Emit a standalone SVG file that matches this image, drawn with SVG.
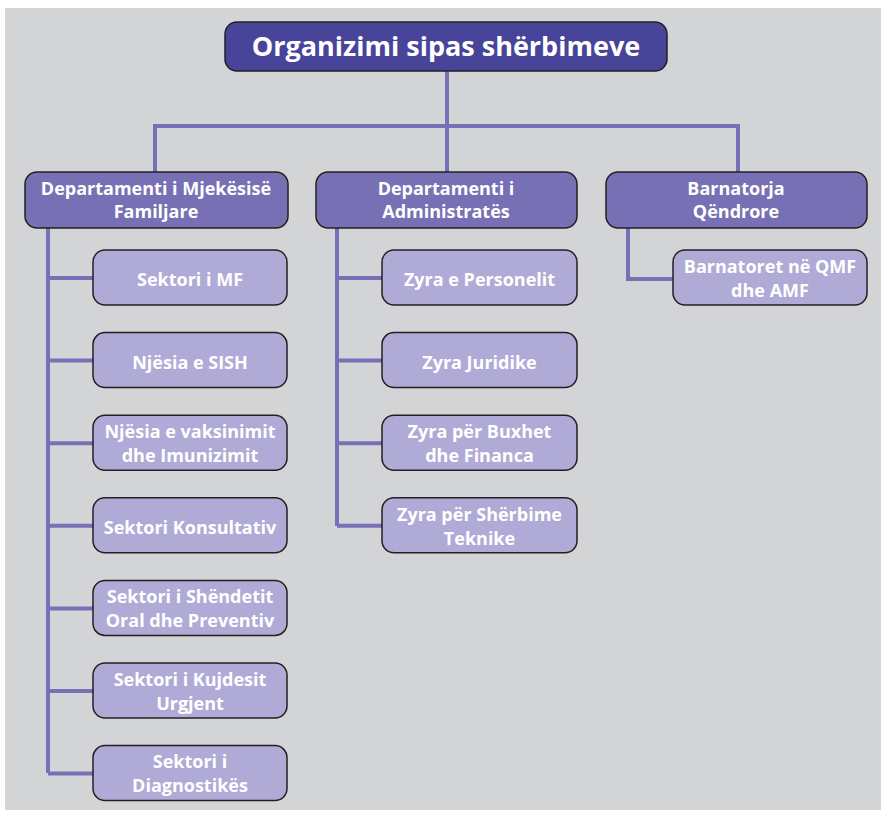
<svg xmlns="http://www.w3.org/2000/svg" width="881" height="813" viewBox="0 0 881 813">
<style>
.bg{fill:#d3d4d6}
.box{stroke:#231f20;stroke-width:1.5}
.root{fill:#48449a}
.l2{fill:#7870b4}
.l3{fill:#b0aad6}
.t{font-family:"Open Sans","Noto Sans",sans-serif;font-weight:700;fill:#ffffff;text-anchor:middle}
.tt{font-size:27px}
.t2{font-size:18px}
.t3{font-size:18px}
.conn{fill:none;stroke:#7870b4;stroke-width:4}
</style>
<rect x="0" y="0" width="881" height="813" fill="#ffffff"/>
<rect class="bg" x="5" y="8" width="876" height="802"/>
<g id="connectors">
<path class="conn" d="M447 71V126M155 172V126H738V172M447 126V172"/>
<path class="conn" d="M48 228V773M48 278H93M48 360.6H93M48 443.2H93M48 525.8H93M48 608.4H93M48 691H93M48 773.6H93"/>
<path class="conn" d="M337 228V526M337 278H382M337 360.6H382M337 443.2H382M337 525.8H382"/>
<path class="conn" d="M628 228V279H673"/>
</g>
<g id="root">
<rect class="box root" x="225" y="22" width="442" height="49" rx="12"/>
<text class="t tt" x="446" y="56">Organizimi sipas shërbimeve</text>
</g>
<g id="dep-mf">
<rect class="box l2" x="25" y="172" width="263" height="56" rx="12"/>
<text class="t t2" x="156" y="195">Departamenti i Mjekësisë</text>
<text class="t t2" x="156" y="218">Familjare</text>
</g>
<g id="dep-adm">
<rect class="box l2" x="316" y="172" width="261" height="56" rx="12"/>
<text class="t t2" x="446" y="195">Departamenti i</text>
<text class="t t2" x="446" y="218">Administratës</text>
</g>
<g id="barnatorja">
<rect class="box l2" x="606" y="172" width="261" height="56" rx="12"/>
<text class="t t2" x="736" y="195">Barnatorja</text>
<text class="t t2" x="736" y="218">Qëndrore</text>
</g>
<g id="sektori-mf">
<rect class="box l3" x="93" y="250" width="194" height="55" rx="12"/>
<text class="t t3" x="190" y="286">Sektori i MF</text>
</g>
<g id="njesia-sish">
<rect class="box l3" x="93" y="332.6" width="194" height="55" rx="12"/>
<text class="t t3" x="190" y="368.6">Njësia e SISH</text>
</g>
<g id="njesia-vaksinimit">
<rect class="box l3" x="93" y="415.2" width="194" height="55" rx="12"/>
<text class="t t3" x="190" y="438">Njësia e vaksinimit</text>
<text class="t t3" x="190" y="462">dhe Imunizimit</text>
</g>
<g id="sektori-konsultativ">
<rect class="box l3" x="93" y="497.8" width="194" height="55" rx="12"/>
<text class="t t3" x="190" y="533.8">Sektori Konsultativ</text>
</g>
<g id="sektori-shendetit">
<rect class="box l3" x="93" y="580.4" width="194" height="55" rx="12"/>
<text class="t t3" x="190" y="603">Sektori i Shëndetit</text>
<text class="t t3" x="190" y="627">Oral dhe Preventiv</text>
</g>
<g id="sektori-kujdesit">
<rect class="box l3" x="93" y="663" width="194" height="55" rx="12"/>
<text class="t t3" x="190" y="685.5">Sektori i Kujdesit</text>
<text class="t t3" x="190" y="709.5">Urgjent</text>
</g>
<g id="sektori-diagnostikes">
<rect class="box l3" x="93" y="745.6" width="194" height="55" rx="12"/>
<text class="t t3" x="190" y="768">Sektori i</text>
<text class="t t3" x="190" y="792">Diagnostikës</text>
</g>
<g id="zyra-personelit">
<rect class="box l3" x="382" y="250" width="195" height="55" rx="12"/>
<text class="t t3" x="479.5" y="286">Zyra e Personelit</text>
</g>
<g id="zyra-juridike">
<rect class="box l3" x="382" y="332.6" width="195" height="55" rx="12"/>
<text class="t t3" x="479.5" y="368.6">Zyra Juridike</text>
</g>
<g id="zyra-buxhet">
<rect class="box l3" x="382" y="415.2" width="195" height="55" rx="12"/>
<text class="t t3" x="479.5" y="438">Zyra për Buxhet</text>
<text class="t t3" x="479.5" y="462">dhe Financa</text>
</g>
<g id="zyra-sherbime">
<rect class="box l3" x="382" y="497.8" width="195" height="55" rx="12"/>
<text class="t t3" x="479.5" y="520.5">Zyra për Shërbime</text>
<text class="t t3" x="479.5" y="544.5">Teknike</text>
</g>
<g id="barnatoret">
<rect class="box l3" x="673" y="250" width="194" height="55" rx="12"/>
<text class="t t3" x="770" y="273">Barnatoret në QMF</text>
<text class="t t3" x="770" y="297">dhe AMF</text>
</g>
</svg>
